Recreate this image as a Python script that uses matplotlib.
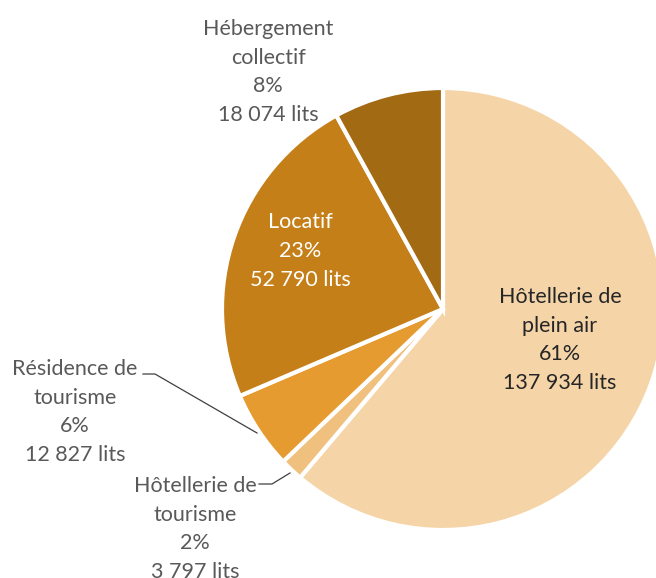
import matplotlib.pyplot as plt

# Data
categories = ["Hôtellerie de\nplein air", "Hôtellerie de\ntourisme", "Résidence de\ntourisme",
              "Locatif", "Hébergement\ncollectif"]
lits = [137934, 3797, 12827, 52790, 18074]
colors = ["#F5D5A8", "#F0C17E", "#E59B2F", "#C47F18", "#A36A14"]

W, H = 656, 578
total = sum(lits)


def fmt_lits(v):
    return f"{v:,}".replace(",", " ") + " lits"


def label_text(i):
    pct = round(100 * lits[i] / total)
    return f"{categories[i]}\n{pct}%\n{fmt_lits(lits[i])}"


fig = plt.figure(figsize=(W / 100, H / 100), dpi=100)
ax = fig.add_axes([0, 0, 1, 1])

# pixel coords -> data coords (y flipped)
cx, cy, r = 443, H - 309, 221
wedges, _ = ax.pie(lits, colors=colors, startangle=90, counterclock=False,
                   center=(cx, cy), radius=r, explode=[0.018, 0, 0, 0, 0],
                   wedgeprops=dict(edgecolor="white", linewidth=3))
ax.set_xlim(0, W)
ax.set_ylim(0, H)
ax.set_aspect("equal")
ax.axis("off")

font = ["Lato", "DejaVu Sans"]
# label centres, in pixels (x, y from top), and text colour
label_pos = [(560, 340, "#262626"), (195, 529, "#595959"), (75, 412, "#595959"),
             (300, 251, "white"), (268, 72, "#595959")]
for i, (x, y, c) in enumerate(label_pos):
    ax.text(x, H - y, label_text(i), ha="center", va="center", multialignment="center",
            fontsize=15.5, color=c, family=font, linespacing=1.55)

# leader lines
ax.plot([143, 155, 257], [H - 374, H - 374, H - 433], color="#404040", lw=0.9)
ax.plot([259, 272, 290], [H - 484, H - 484, H - 473], color="#404040", lw=0.9)

fig.savefig("out.png", dpi=100)
